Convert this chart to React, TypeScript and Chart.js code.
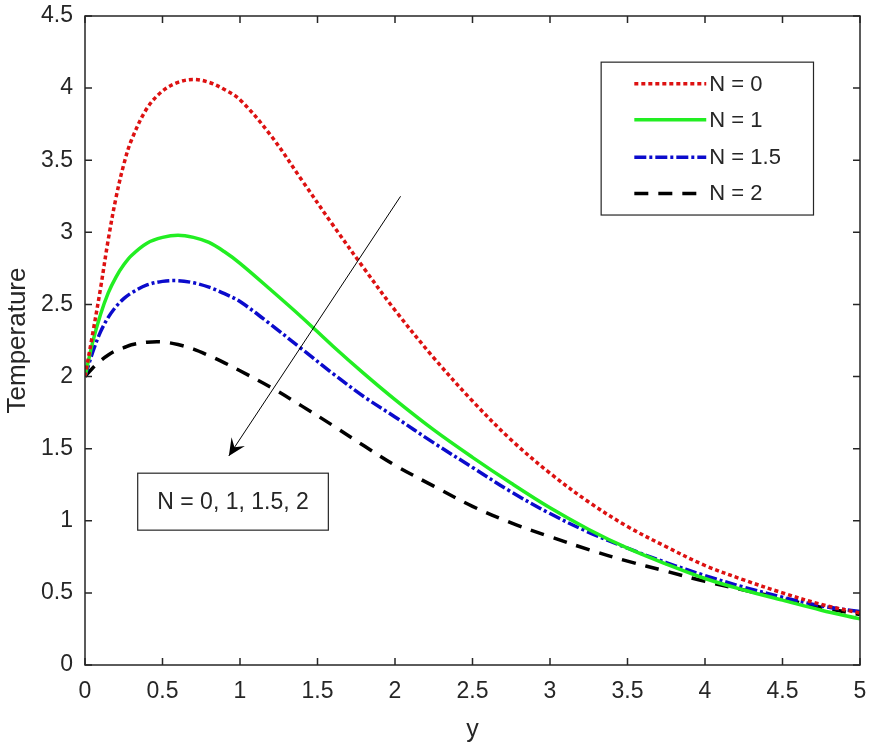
import React, { useRef, useEffect } from 'react';
import Chart from 'chart.js/auto';

const xs = [0, 0.05, 0.1, 0.15, 0.2, 0.25, 0.3, 0.4, 0.5, 0.6, 0.7, 0.8, 0.9, 1.0, 1.2, 1.4, 1.6, 1.8, 2.0, 2.25, 2.5, 2.75, 3.0, 3.25, 3.5, 3.75, 4.0, 4.25, 4.5, 4.75, 5.0];

const n0 = [2.0, 2.3, 2.61, 2.95, 3.24, 3.47, 3.64, 3.86, 3.98, 4.04, 4.06, 4.04, 3.99, 3.92, 3.67, 3.36, 3.05, 2.75, 2.46, 2.13, 1.83, 1.56, 1.33, 1.13, 0.96, 0.82, 0.69, 0.59, 0.5, 0.42, 0.36];
const n1 = [2.0, 2.24, 2.43, 2.58, 2.69, 2.775, 2.84, 2.925, 2.965, 2.98, 2.965, 2.93, 2.865, 2.785, 2.6, 2.41, 2.21, 2.02, 1.84, 1.63, 1.44, 1.26, 1.09, 0.94, 0.81, 0.7, 0.6, 0.52, 0.45, 0.38, 0.32];
const n15 = [2.0, 2.17, 2.31, 2.41, 2.485, 2.54, 2.58, 2.635, 2.66, 2.665, 2.65, 2.62, 2.575, 2.52, 2.36, 2.19, 2.02, 1.86, 1.72, 1.54, 1.37, 1.2, 1.05, 0.92, 0.81, 0.71, 0.62, 0.54, 0.47, 0.41, 0.37];
const n2 = [2.0, 2.06, 2.11, 2.15, 2.18, 2.2, 2.22, 2.238, 2.24, 2.222, 2.19, 2.145, 2.095, 2.04, 1.925, 1.795, 1.66, 1.52, 1.385, 1.24, 1.1, 0.985, 0.89, 0.8, 0.72, 0.65, 0.58, 0.52, 0.46, 0.4, 0.35];

const seriesLabels = ['N = 0', 'N = 1', 'N = 1.5', 'N = 2'];
const xTicks = [0, 0.5, 1, 1.5, 2, 2.5, 3, 3.5, 4, 4.5, 5];
const yTicks = [0, 0.5, 1, 1.5, 2, 2.5, 3, 3.5, 4, 4.5];
const noteText = 'N = 0, 1, 1.5, 2';

const colors = ['#dd1111', '#22ee22', '#0b0bcc', '#000000'];
const dashes = [[4, 3], [], [12, 3, 3, 3], [14, 10]];
const FONT = '"Liberation Sans", Arial, sans-serif';
const INK = '#262626';

const framePlugin = {
  id: 'frame',
  afterDatasetsDraw(chart: any) {
    const { ctx, chartArea: a, scales } = chart;
    const sx = scales.x;
    const sy = scales.y;
    ctx.save();
    ctx.strokeStyle = INK;
    ctx.lineWidth = 1.5;
    ctx.setLineDash([]);
    ctx.strokeRect(a.left, a.top, a.right - a.left, a.bottom - a.top);
    const len = 7;
    ctx.beginPath();
    xTicks.forEach((v) => {
      const px = sx.getPixelForValue(v);
      ctx.moveTo(px, a.bottom);
      ctx.lineTo(px, a.bottom - len);
      ctx.moveTo(px, a.top);
      ctx.lineTo(px, a.top + len);
    });
    yTicks.forEach((v) => {
      const py = sy.getPixelForValue(v);
      ctx.moveTo(a.left, py);
      ctx.lineTo(a.left + len, py);
      ctx.moveTo(a.right, py);
      ctx.lineTo(a.right - len, py);
    });
    ctx.stroke();
    ctx.restore();
  },
};

const annotationPlugin = {
  id: 'annotations',
  afterDraw(chart: any) {
    const { ctx, scales } = chart;
    const X = (v: number) => scales.x.getPixelForValue(v);
    const Y = (v: number) => scales.y.getPixelForValue(v);
    ctx.save();

    // arrow
    const x1 = X(2.036), y1 = Y(3.25), x2 = X(0.928), y2 = Y(1.45);
    ctx.strokeStyle = '#000';
    ctx.fillStyle = '#000';
    ctx.lineWidth = 1;
    ctx.setLineDash([]);
    ctx.beginPath();
    ctx.moveTo(x1, y1);
    ctx.lineTo(x2, y2);
    ctx.stroke();
    const ang = Math.atan2(y2 - y1, x2 - x1);
    const hl = 17, hw = 8;
    const bx = x2 - hl * Math.cos(ang), by = y2 - hl * Math.sin(ang);
    const nx = x2 - hl * 0.6 * Math.cos(ang), ny = y2 - hl * 0.6 * Math.sin(ang);
    ctx.beginPath();
    ctx.moveTo(x2, y2);
    ctx.lineTo(bx + hw * Math.sin(ang), by - hw * Math.cos(ang));
    ctx.lineTo(nx, ny);
    ctx.lineTo(bx - hw * Math.sin(ang), by + hw * Math.cos(ang));
    ctx.closePath();
    ctx.fill();

    // text box
    const tl = X(0.34), tr = X(1.57), tt = Y(1.33), tb = Y(0.935);
    ctx.fillStyle = '#fff';
    ctx.fillRect(tl, tt, tr - tl, tb - tt);
    ctx.strokeStyle = INK;
    ctx.lineWidth = 1.2;
    ctx.strokeRect(tl, tt, tr - tl, tb - tt);
    ctx.fillStyle = INK;
    ctx.font = `23px ${FONT}`;
    ctx.textAlign = 'center';
    ctx.textBaseline = 'middle';
    ctx.fillText(noteText, (tl + tr) / 2, (tt + tb) / 2 + 1);

    // legend
    const ll = X(3.33), lr = X(4.7), lt = Y(4.18), lb = Y(3.12);
    ctx.fillStyle = '#fff';
    ctx.fillRect(ll, lt, lr - ll, lb - lt);
    ctx.strokeStyle = INK;
    ctx.lineWidth = 1.2;
    ctx.strokeRect(ll, lt, lr - ll, lb - lt);
    const rows = [4.03, 3.78, 3.52, 3.27];
    seriesLabels.forEach((lab, i) => {
      const ry = Y(rows[i]);
      ctx.strokeStyle = colors[i];
      ctx.lineWidth = 3.5;
      ctx.setLineDash(dashes[i]);
      ctx.beginPath();
      ctx.moveTo(X(3.544), ry);
      ctx.lineTo(X(4.008), ry);
      ctx.stroke();
      ctx.setLineDash([]);
      ctx.fillStyle = INK;
      ctx.font = `22px ${FONT}`;
      ctx.textAlign = 'left';
      ctx.textBaseline = 'middle';
      ctx.fillText(lab, X(4.028), ry + 1);
    });
    ctx.restore();
  },
};

const TemperatureChart: React.FC = () => {
  const canvasRef = useRef<HTMLCanvasElement>(null);

  useEffect(() => {
    let chart: Chart | null = null;
    if (canvasRef.current) {
      const series = [n0, n1, n15, n2];
      chart = new Chart(canvasRef.current, {
        type: 'line',
        data: {
          datasets: series.map((vals, i) => ({
            label: seriesLabels[i],
            data: xs.map((x, j) => ({ x, y: vals[j] })),
            borderColor: colors[i],
            borderWidth: 3.5,
            borderDash: dashes[i],
            pointRadius: 0,
            fill: false,
            tension: 0.35,
          })),
        },
        options: {
          animation: false,
          responsive: true,
          maintainAspectRatio: false,
          layout: { padding: { left: 0, top: 16, right: 11, bottom: 0 } },
          plugins: {
            legend: { display: false },
            tooltip: { enabled: false },
          },
          scales: {
            x: {
              type: 'linear',
              min: 0,
              max: 5,
              afterBuildTicks: (s: any) => {
                s.ticks = xTicks.map((v) => ({ value: v }));
              },
              afterFit: (s: any) => {
                s.height = 84;
                s.paddingLeft = 0;
                s.paddingRight = 0;
              },
              grid: { display: false, drawTicks: false },
              border: { display: false },
              ticks: {
                padding: 13,
                color: INK,
                font: { family: FONT, size: 23 },
                callback: (v: any) => String(v),
              },
              title: {
                display: true,
                text: 'y',
                color: INK,
                font: { family: FONT, size: 25 },
                padding: { top: 2, bottom: 4 },
              },
            },
            y: {
              type: 'linear',
              min: 0,
              max: 4.5,
              afterBuildTicks: (s: any) => {
                s.ticks = yTicks.map((v) => ({ value: v }));
              },
              afterFit: (s: any) => {
                s.width = 85;
                s.paddingTop = 0;
                s.paddingBottom = 0;
              },
              grid: { display: false, drawTicks: false },
              border: { display: false },
              ticks: {
                padding: 12,
                color: INK,
                font: { family: FONT, size: 23 },
                callback: (v: any) => String(v),
              },
              title: {
                display: true,
                text: 'Temperature',
                color: INK,
                font: { family: FONT, size: 26 },
                padding: { top: 2, bottom: 4 },
              },
            },
          },
        },
        plugins: [framePlugin, annotationPlugin],
      });
    }
    return () => {
      if (chart) chart.destroy();
    };
  }, []);

  return (
    <div style={{ position: 'fixed', left: 0, top: 0, width: 871, height: 749, background: '#fff' }}>
      <canvas ref={canvasRef} />
    </div>
  );
};

export default function App() {
  return <TemperatureChart />;
}
